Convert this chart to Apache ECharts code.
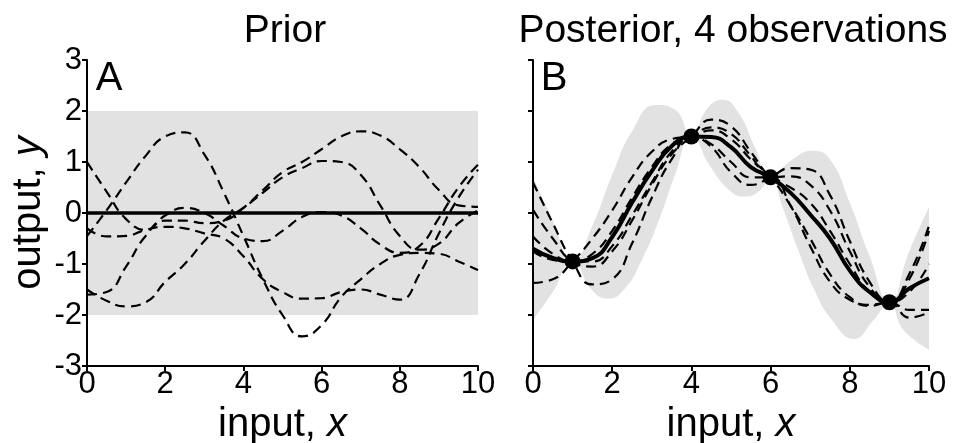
<!DOCTYPE html>
<html lang="en">

<head>
    <meta charset="UTF-8">
    <title>GP prior / posterior</title>
    <script src="https://cdn.jsdelivr.net/npm/echarts@6/dist/echarts.min.js"></script>
    <style>
        html, body { margin: 0; padding: 0; background: #fff; }
        #main { width: 959px; height: 443px; }
    </style>
</head>

<body>
    <div id="main"></div>
</body>
<script>
    // x grid shared by the sample curves and the means
    const xs = [0, 0.5, 1, 1.5, 2, 2.5, 3, 3.5, 4, 4.5, 5, 5.5, 6, 6.5, 7, 7.5, 8, 8.5, 9, 9.5, 10]
    const yTicks = [-3, -2, -1, 0, 1, 2, 3]

    // prior: mean 0, band +-2
    const priorBandX = [0, 10]
    const priorLower = [-2, -2]
    const priorUpper = [2, 2]
    const priorMean = [0, 0]
    const priorSamples = [
        [-0.45, 0.05, 0.6, 1.12, 1.5, 1.58, 1.15, 0.4, -0.45, -1.3, -2.0, -2.42, -2.2, -1.65, -1.3, -1.0, -0.82, -0.78, -0.8, -0.95, -1.12],
        [1.0, 0.42, -0.12, -0.33, -0.05, 0.1, 0.0, -0.25, -0.5, -0.55, -0.35, -0.08, 0.02, -0.05, -0.3, -0.62, -0.78, -0.65, -0.1, 0.5, 0.95],
        [-0.3, -0.46, -0.45, -0.33, -0.27, -0.3, -0.4, -0.5, -0.85, -1.3, -1.55, -1.68, -1.67, -1.55, -1.5, -1.6, -1.7, -1.2, -0.4, 0.3, 0.85],
        [-1.5, -1.72, -1.83, -1.75, -1.35, -1.0, -0.55, -0.15, 0.1, 0.4, 0.7, 0.88, 1.02, 1.0, 0.75, 0.15, -0.45, -0.72, -0.6, -0.2, 0.05],
        [-1.6, -1.55, -1.05, -0.45, -0.15, -0.15, -0.2, -0.15, 0.1, 0.45, 0.8, 1.0, 1.25, 1.5, 1.6, 1.52, 1.25, 0.9, 0.45, 0.15, 0.12]
    ]

    // posterior after 4 observations
    const obsX = [1, 4, 6, 9]
    const obsY = [-0.95, 1.5, 0.7, -1.75]
    // band edges, read at their own knots
    const upperX = [0, 0.5, 1, 1.5, 2, 2.5, 3.1, 3.6, 4, 4.4, 4.8, 5.2, 5.6, 6, 6.5, 7.05, 7.5, 8, 8.5, 9, 9.5, 10]
    const upperY = [0.71, -0.15, -0.95, -0.25, 0.75, 1.6, 2.12, 2.02, 1.5, 2.05, 2.22, 1.95, 1.3, 0.7, 1.02, 1.22, 1.05, 0.2, -0.85, -1.75, -0.75, 0.12]
    const lowerX = [0, 0.5, 1, 1.5, 1.9, 2.3, 2.75, 3.2, 3.6, 4, 4.5, 5, 5.35, 5.7, 6, 6.3, 6.7, 7.1, 7.55, 8.1, 8.6, 9, 9.3, 9.65, 10]
    const lowerY = [-2.1, -1.55, -0.95, -1.52, -1.68, -1.5, -0.92, -0.1, 0.78, 1.5, 0.88, 0.42, 0.32, 0.42, 0.7, 0.12, -0.73, -1.5, -2.1, -2.47, -2.1, -1.75, -2.23, -2.5, -2.68]
    const postMean = [-0.7, -0.88, -0.95, -0.885, -0.47, 0.2, 0.82, 1.31, 1.5, 1.49, 1.29, 0.9, 0.7, 0.4, -0.03, -0.5, -1.13, -1.55, -1.75, -1.48, -1.28]
    const postSamples = [
        [0.6, -0.2, -0.95, -1.4, -1.3, -0.6, 0.3, 1.05, 1.5, 1.3, 0.8, 0.55, 0.7, 0.88, 0.85, 0.35, -0.55, -1.35, -1.75, -1.2, -0.25],
        [-1.37, -1.3, -0.95, -0.5, 0.05, 0.7, 1.2, 1.45, 1.5, 1.62, 1.45, 1.05, 0.7, 0.15, -0.5, -1.2, -1.65, -1.82, -1.75, -2.05, -1.95],
        [0.06, -0.5, -0.95, -1.05, -0.75, -0.15, 0.55, 1.15, 1.5, 1.83, 1.7, 1.2, 0.7, 0.5, 0.2, -0.35, -1.0, -1.55, -1.75, -1.3, -0.35],
        [-0.46, -0.8, -0.95, -0.8, -0.35, 0.3, 0.9, 1.35, 1.5, 1.68, 1.55, 1.12, 0.7, 0.72, 0.55, 0.05, -0.75, -1.45, -1.75, -1.55, -1.0],
        [-0.75, -0.92, -0.95, -0.95, -0.65, -0.05, 0.6, 1.2, 1.5, 1.35, 1.0, 0.7, 0.7, 0.15, -0.65, -1.35, -1.7, -1.8, -1.75, -1.9, -1.9]
    ]

    const FONT = '"Liberation Sans", Arial, sans-serif'
    const BAND = '#e2e2e2'

    function pairs(x, y) {
        return y.map((v, i) => [x[i], v])
    }

    // band: grey area under the upper edge, then white area under the lower edge
    function band(idx, xu, upper, xl, lower, smooth) {
        return [{
            type: 'line', xAxisIndex: idx, yAxisIndex: idx, data: pairs(xu, upper),
            smooth: smooth, symbol: 'none', lineStyle: { width: 0, opacity: 0 },
            areaStyle: { color: BAND, opacity: 1, origin: 'start' }, z: 1, silent: true
        }, {
            type: 'line', xAxisIndex: idx, yAxisIndex: idx, data: pairs(xl, lower),
            smooth: smooth, symbol: 'none', lineStyle: { width: 0, opacity: 0 },
            areaStyle: { color: '#fff', opacity: 1, origin: 'start' }, z: 1.5, silent: true
        }]
    }

    function dashed(idx, y) {
        return {
            type: 'line', xAxisIndex: idx, yAxisIndex: idx,
            data: pairs(xs, y), smooth: true, symbol: 'none',
            lineStyle: { color: '#000', width: 2.2, type: [10, 6] }, z: 3
        }
    }

    const nameStyle = {
        color: '#000', fontSize: 40, fontFamily: FONT,
        rich: { i: { fontStyle: 'italic', fontSize: 40, fontFamily: FONT, color: '#000' } }
    }

    function xAxis(idx) {
        return {
            type: 'value', gridIndex: idx, min: 0, max: 10, interval: 2, z: 10,
            name: 'input, {i|x}', nameLocation: 'middle', nameGap: 32, nameTextStyle: nameStyle,
            axisLine: { show: true, onZero: false, lineStyle: { color: '#000', width: 2 } },
            axisTick: { show: true, length: 5, lineStyle: { color: '#000', width: 2 } },
            axisLabel: { color: '#000', fontSize: 31, fontFamily: FONT, margin: 3 },
            splitLine: { show: false }
        }
    }

    function yAxis(idx, labels) {
        return {
            type: 'value', gridIndex: idx, min: yTicks[0], max: yTicks[yTicks.length - 1], interval: 1, z: 10,
            name: labels ? 'output, {i|y}' : '', nameLocation: 'middle', nameGap: 38, nameTextStyle: nameStyle,
            axisLine: { show: true, onZero: false, lineStyle: { color: '#000', width: 2 } },
            axisTick: { show: true, length: 5, lineStyle: { color: '#000', width: 2 } },
            axisLabel: { show: labels, color: '#000', fontSize: 31, fontFamily: FONT, margin: 5 },
            splitLine: { show: false }
        }
    }

    let series = []
    series = series.concat(band(0, priorBandX, priorUpper, priorBandX, priorLower, false))
    priorSamples.forEach(s => series.push(dashed(0, s)))
    series.push({
        type: 'line', xAxisIndex: 0, yAxisIndex: 0, data: pairs(priorBandX, priorMean),
        symbol: 'none', lineStyle: { color: '#000', width: 3.5 }, z: 4
    })

    series = series.concat(band(1, upperX, upperY, lowerX, lowerY, true))
    postSamples.forEach(s => series.push(dashed(1, s)))
    series.push({
        type: 'line', xAxisIndex: 1, yAxisIndex: 1, data: pairs(xs, postMean), smooth: true,
        symbol: 'none', lineStyle: { color: '#000', width: 4 }, z: 4
    })
    series.push({
        type: 'scatter', xAxisIndex: 1, yAxisIndex: 1, data: pairs(obsX, obsY),
        symbolSize: 16, itemStyle: { color: '#000', opacity: 1 }, z: 5
    })

    function label(text, x, y, size) {
        return {
            type: 'text', x: x, y: y, z: 20, silent: true,
            style: { text: text, fill: '#000', fontSize: size, fontFamily: FONT, align: 'center', verticalAlign: 'middle' }
        }
    }

    let mCharts = echarts.init(document.getElementById('main'), null, { renderer: 'canvas' })
    mCharts.setOption({
        animation: false,
        grid: [
            { left: 87, top: 60, width: 391, height: 306, outerBoundsMode: 'none', containLabel: false },
            { left: 533, top: 60, width: 396, height: 306, outerBoundsMode: 'none', containLabel: false }
        ],
        xAxis: [xAxis(0), xAxis(1)],
        yAxis: [yAxis(0, true), yAxis(1, false)],
        graphic: [
            label('Prior', 285, 31, 39),
            label('Posterior, 4 observations', 733, 31, 39),
            label('A', 109, 79, 40),
            label('B', 554, 79, 40)
        ],
        series: series
    })
</script>

</html>
